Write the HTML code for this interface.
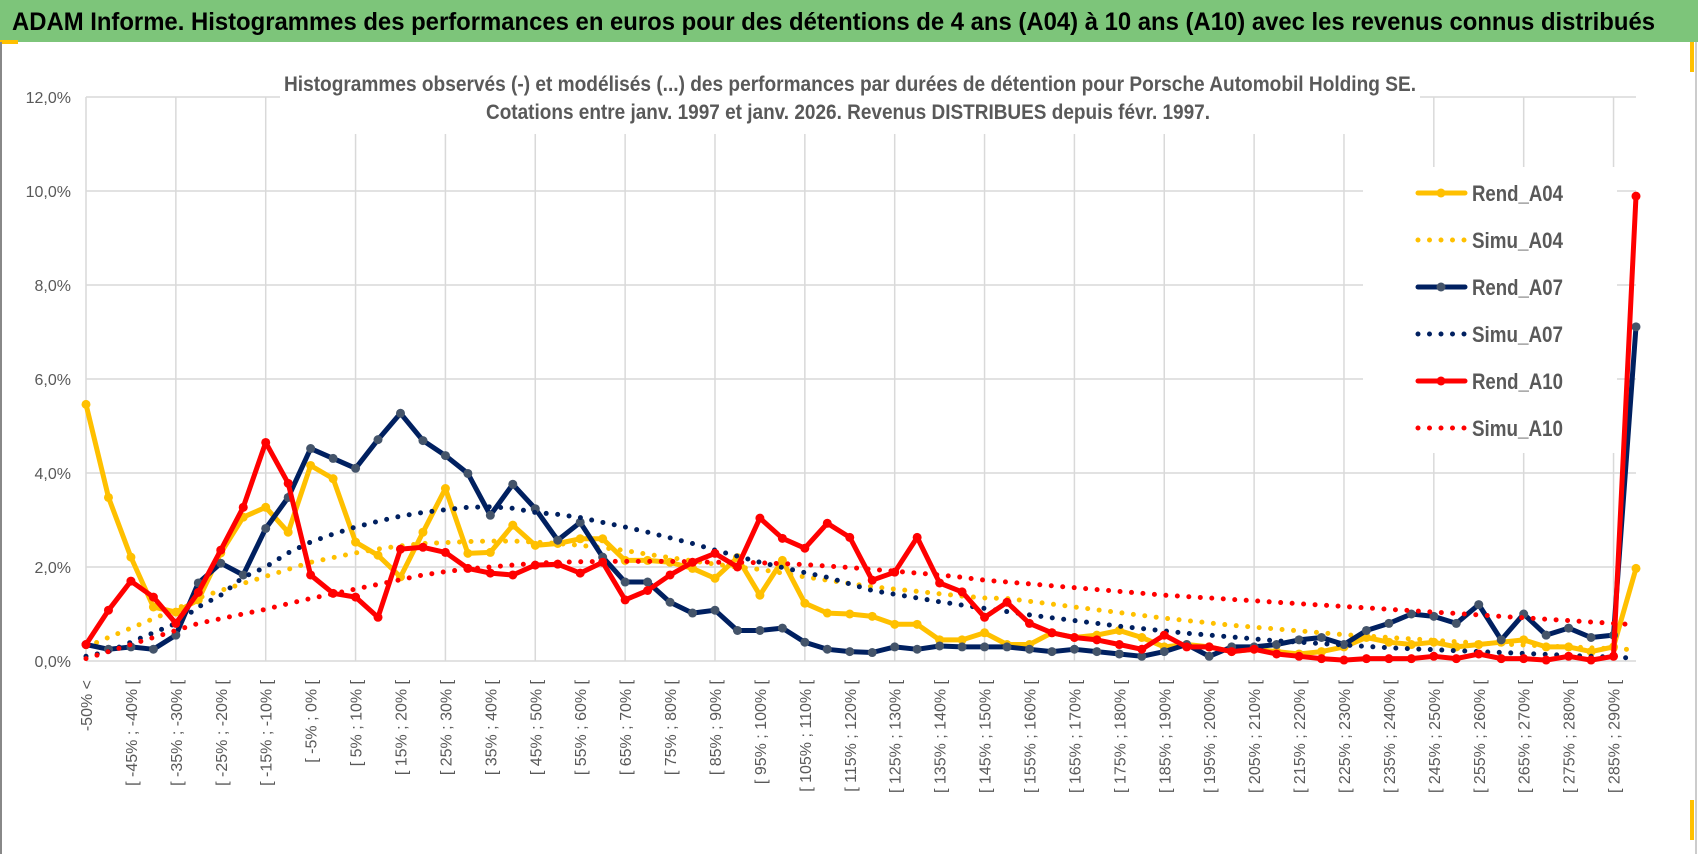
<!DOCTYPE html>
<html><head><meta charset="utf-8"><style>
html,body{margin:0;padding:0;background:#fff;}
svg{display:block;font-family:"Liberation Sans Narrow","Liberation Sans",sans-serif;}
</style></head><body>
<svg id="chart" width="1698" height="854" viewBox="0 0 1698 854">
<rect x="0" y="0" width="1698" height="854" fill="#fff"/>
<rect x="0" y="0" width="1698" height="42" fill="#7DC57A"/>
<rect x="0" y="40" width="18" height="4" fill="#FFC000"/>
<line x1="1" y1="42" x2="1" y2="854" stroke="#888" stroke-width="2"/>
<line x1="1696" y1="42" x2="1696" y2="854" stroke="#ccc" stroke-width="2"/>
<rect x="1690" y="42" width="4" height="30" fill="#FFC000"/>
<rect x="1690" y="800" width="4" height="40" fill="#FFC000"/>
<text x="12" y="30" font-size="25" font-weight="bold" fill="#000" textLength="1643" lengthAdjust="spacingAndGlyphs">ADAM Informe. Histogrammes des performances en euros pour des détentions de 4 ans (A04) à 10 ans (A10) avec les revenus connus distribués</text>
<g id="grid"></g>
<g id="yaxis"></g>
<g id="xaxis"></g>
<rect x="280" y="62" width="1140" height="72" fill="#fff"/>
<text x="284" y="91" font-size="21" font-weight="bold" fill="#595959" textLength="1132" lengthAdjust="spacingAndGlyphs">Histogrammes observés (-) et modélisés (...) des performances par durées de détention pour Porsche Automobil Holding SE.</text>
<text x="486" y="119" font-size="21" font-weight="bold" fill="#595959" textLength="724" lengthAdjust="spacingAndGlyphs">Cotations entre janv. 1997 et janv. 2026. Revenus DISTRIBUES depuis févr. 1997.</text>
<g id="series"></g>
<g id="legend"></g>
</svg>
<script>
const categories = (function(){const a=["-50% <"];for(let k=0;k<69;k++){const lo=-50+5*k;a.push("[ "+lo+"% ; "+(lo+5)+"% [");}return a;})();
const yTicks = [0,2,4,6,8,10,12];
const yTickLabels = ["0,0%","2,0%","4,0%","6,0%","8,0%","10,0%","12,0%"];
const seriesNames = ["Rend_A04","Simu_A04","Rend_A07","Simu_A07","Rend_A10","Simu_A10"];
const rendA04 = [5.46,3.48,2.21,1.15,1.04,1.3,2.3,3.06,3.27,2.74,4.16,3.88,2.53,2.25,1.79,2.74,3.67,2.29,2.31,2.89,2.46,2.5,2.6,2.6,2.14,2.14,2.1,1.97,1.76,2.2,1.4,2.14,1.23,1.02,1.0,0.95,0.78,0.78,0.45,0.45,0.6,0.35,0.35,0.6,0.5,0.55,0.65,0.5,0.3,0.35,0.3,0.2,0.25,0.2,0.15,0.2,0.3,0.5,0.4,0.35,0.4,0.3,0.35,0.4,0.45,0.3,0.3,0.2,0.3,1.97];
const simuA04 = [0.3,0.5,0.7,0.9,1.1,1.34,1.5,1.65,1.8,1.95,2.1,2.2,2.3,2.38,2.45,2.5,2.52,2.54,2.55,2.55,2.53,2.5,2.46,2.41,2.35,2.27,2.2,2.13,2.06,2.0,1.95,1.87,1.79,1.72,1.65,1.58,1.53,1.48,1.43,1.38,1.34,1.33,1.27,1.21,1.15,1.09,1.03,0.97,0.91,0.86,0.81,0.76,0.72,0.68,0.64,0.6,0.56,0.53,0.5,0.47,0.44,0.41,0.38,0.36,0.34,0.32,0.3,0.28,0.26,0.24];
const rendA07 = [0.35,0.25,0.3,0.25,0.55,1.66,2.08,1.83,2.82,3.48,4.52,4.31,4.1,4.71,5.27,4.69,4.37,3.99,3.1,3.76,3.24,2.57,2.95,2.21,1.68,1.68,1.25,1.02,1.08,0.65,0.65,0.7,0.4,0.25,0.2,0.18,0.3,0.25,0.32,0.3,0.3,0.3,0.25,0.2,0.25,0.2,0.15,0.1,0.2,0.35,0.1,0.3,0.3,0.35,0.45,0.5,0.35,0.65,0.8,1.0,0.95,0.8,1.2,0.45,1.0,0.55,0.7,0.5,0.55,7.11];
const simuA07 = [0.1,0.2,0.4,0.6,0.8,1.15,1.4,1.78,2.0,2.3,2.53,2.7,2.85,2.97,3.08,3.16,3.22,3.27,3.28,3.25,3.16,3.12,3.05,2.95,2.85,2.74,2.62,2.5,2.36,2.23,2.1,1.99,1.88,1.78,1.64,1.5,1.42,1.34,1.26,1.19,1.12,1.05,0.98,0.92,0.86,0.8,0.74,0.69,0.64,0.59,0.55,0.51,0.47,0.43,0.4,0.37,0.34,0.31,0.28,0.26,0.24,0.22,0.2,0.18,0.16,0.14,0.12,0.1,0.08,0.06];
const rendA10 = [0.35,1.08,1.7,1.36,0.8,1.46,2.36,3.27,4.65,3.78,1.83,1.44,1.36,0.93,2.38,2.42,2.31,1.97,1.87,1.83,2.04,2.06,1.87,2.1,1.3,1.5,1.83,2.1,2.29,2.0,3.04,2.61,2.4,2.93,2.63,1.72,1.89,2.63,1.66,1.47,0.93,1.25,0.8,0.6,0.5,0.45,0.35,0.25,0.55,0.3,0.3,0.2,0.25,0.15,0.1,0.05,0.02,0.05,0.05,0.05,0.1,0.05,0.15,0.05,0.05,0.02,0.1,0.02,0.1,9.89];
const simuA10 = [0.05,0.2,0.35,0.5,0.65,0.8,0.9,1.0,1.1,1.22,1.33,1.43,1.53,1.63,1.73,1.83,1.9,1.96,2.0,2.04,2.08,2.1,2.11,2.12,2.12,2.12,2.12,2.11,2.1,2.1,2.09,2.07,2.05,2.02,1.99,1.95,1.91,1.87,1.83,1.78,1.72,1.68,1.64,1.6,1.56,1.52,1.48,1.44,1.4,1.37,1.34,1.31,1.28,1.25,1.22,1.19,1.16,1.13,1.1,1.07,1.04,1.01,0.98,0.95,0.92,0.89,0.86,0.83,0.8,0.77];

const NS="http://www.w3.org/2000/svg";
const X0=86, X1=1636, Y0=661, YTOP=97;
function xPos(i){return X0+(X1-X0)*i/(categories.length-1);}
function yPos(v){return Y0-(Y0-YTOP)*v/12;}
function mk(tag,attrs,parent){const e=document.createElementNS(NS,tag);for(const k in attrs)e.setAttribute(k,attrs[k]);parent.appendChild(e);return e;}

const grid=document.getElementById('grid');
yTicks.forEach(function(t){
  const l=mk('line',{x1:X0,x2:X1,y1:yPos(t),y2:yPos(t),stroke:'#d9d9d9','stroke-width':1.5},grid);
  
  
});
for(let i=0;i<categories.length;i+=4){
  const l=mk('line',{x1:xPos(i),x2:xPos(i),y1:YTOP,y2:Y0,stroke:'#d9d9d9','stroke-width':1.5},grid);
  
  
}
const yax=document.getElementById('yaxis');
yTicks.forEach(function(t,k){
  const tx=mk('text',{x:71,y:yPos(t)+6,'text-anchor':'end','font-size':16,fill:'#595959'},yax);
  tx.textContent=yTickLabels[k];
  
  
});
const xax=document.getElementById('xaxis');
categories.forEach(function(c,i){
  if(i%2!==0)return;
  const x=xPos(i)+6;
  const tx=mk('text',{x:x,y:680,'text-anchor':'end','font-size':16,fill:'#595959',transform:'rotate(-90 '+x+' 680)'},xax);
  tx.textContent=c;
  
  
});

const ser=document.getElementById('series');
const defs=[
 {name:seriesNames[0],data:rendA04,color:'#FFC000',dotted:false,marker:'#FFC000'},
 {name:seriesNames[1],data:simuA04,color:'#FFC000',dotted:true},
 {name:seriesNames[2],data:rendA07,color:'#002060',dotted:false,marker:'#44546A'},
 {name:seriesNames[3],data:simuA07,color:'#002060',dotted:true},
 {name:seriesNames[4],data:rendA10,color:'#FF0000',dotted:false,marker:'#FF0000'},
 {name:seriesNames[5],data:simuA10,color:'#FF0000',dotted:true}
];
defs.forEach(function(d){
  const g=mk('g',{},ser);
  
  
  const pts=d.data.map(function(v,i){return xPos(i).toFixed(1)+','+yPos(v).toFixed(1);}).join(' ');
  const attrs={points:pts,fill:'none',stroke:d.color,'stroke-linejoin':'round','stroke-linecap':'round','stroke-width':5};
  if(d.dotted){attrs['stroke-dasharray']='0 11.5';}
  const pl=mk('polyline',attrs,g);
  
  
  if(!d.dotted){
    d.data.forEach(function(v,i){
      const c=mk('circle',{cx:xPos(i),cy:yPos(v),r:4.5,fill:d.marker},g);
      
      
    });
  }
});

const leg=document.getElementById('legend');
mk('rect',{x:1363,y:167,width:254,height:286,fill:'#fff'},leg);
defs.forEach(function(d,k){
  const y=193+47*k;
  const g=mk('g',{},leg);
  
  
  if(d.dotted){
    mk('line',{x1:1418,x2:1465,y1:y,y2:y,stroke:d.color,'stroke-width':5,'stroke-dasharray':'0 11.5','stroke-linecap':'round'},g);
  }else{
    mk('line',{x1:1418,x2:1465,y1:y,y2:y,stroke:d.color,'stroke-width':5,'stroke-linecap':'round'},g);
    mk('circle',{cx:1441,cy:y,r:4.5,fill:d.marker},g);
  }
  const t=mk('text',{x:1472,y:y+8,'font-size':22,'font-weight':'bold',fill:'#595959',textLength:91,lengthAdjust:'spacingAndGlyphs'},g);
  t.textContent=d.name;
});
</script>
</body></html>
